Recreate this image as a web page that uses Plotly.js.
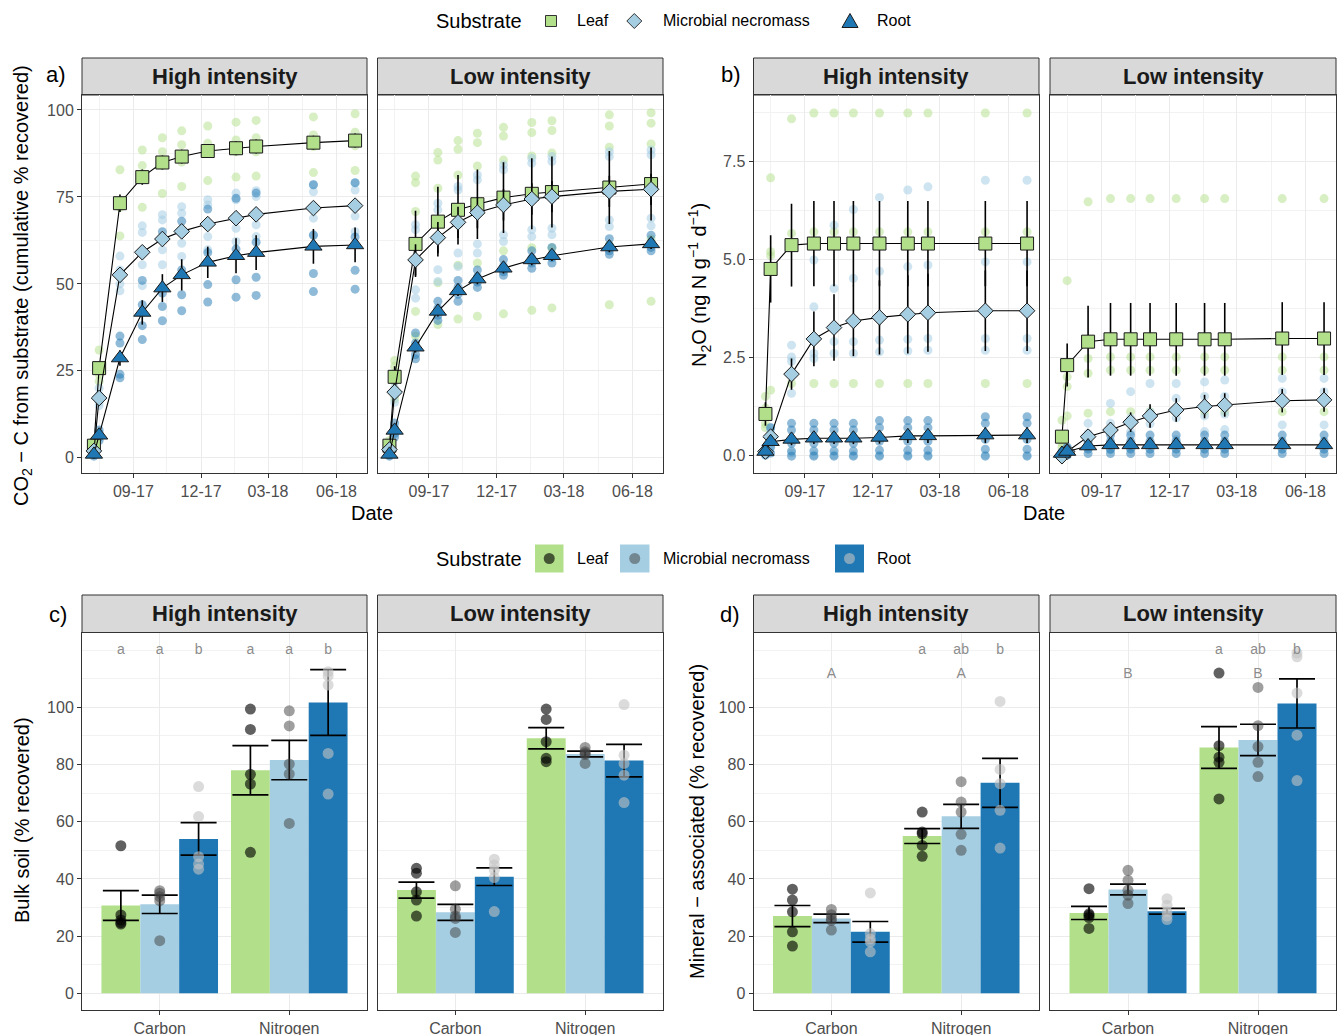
<!DOCTYPE html>
<html><head><meta charset="utf-8">
<script src="https://cdn.plot.ly/plotly-3.0.1.min.js"></script>
<style>html,body{margin:0;padding:0;background:#fff}#chart{width:1341px;height:1035px}</style>
</head><body><div id="chart"></div>
<script>
// ---------------- DATA ----------------
const substrates = ['Leaf', 'Microbial necromass', 'Root'];
const intensities = ['High intensity', 'Low intensity'];
const dates = ['2017-07-10','2017-07-17','2017-08-14','2017-09-13','2017-10-10','2017-11-05','2017-12-10','2018-01-17','2018-02-13','2018-05-01','2018-06-26'];
const dateTicks = ['2017-09-01','2017-12-01','2018-03-01','2018-06-01'];
const dateMinor = ['2017-07-17','2017-10-16','2018-01-15','2018-04-16'];

// a) CO2-C cumulative % recovered — means, SE, replicates
const co2HighLeaf = [3.5, 25.8, 73.2, 80.7, 84.9, 86.6, 88.2, 89.0, 89.5, 90.6, 91.2];
const co2HighLeafSE = [0.8, 2, 2.5, 2.2, 2, 2, 2, 2, 2, 2, 2];
const co2HighMicro = [2.0, 17.2, 52.6, 59.1, 62.9, 65.1, 67.2, 68.9, 70.0, 71.8, 72.5];
const co2HighMicroSE = [0.5, 1.5, 1.5, 1.8, 1.8, 1.8, 1.8, 1.8, 1.8, 1.8, 1.8];
const co2HighRoot = [1.0, 6.5, 28.7, 41.8, 48.8, 52.6, 56.2, 58.1, 59.0, 60.8, 61.2];
const co2HighRootSE = [0.3, 1, 2.2, 3.5, 4, 4.5, 4.5, 5, 5, 5, 5];
const co2LowLeaf = [3.5, 23.3, 61.5, 67.9, 71.3, 72.9, 74.8, 75.9, 76.4, 77.7, 78.7];
const co2LowLeafSE = [1, 3, 9.5, 10, 10, 10, 10.2, 10.2, 10.2, 10.5, 10.5];
const co2LowMicro = [2.4, 18.9, 56.9, 63.3, 67.7, 70.5, 72.7, 74.4, 75.1, 76.6, 77.2];
const co2LowMicroSE = [0.5, 2, 4.5, 4.5, 4.5, 4.5, 4.5, 4.5, 4.5, 4.5, 4.5];
const co2LowRoot = [1.0, 7.9, 31.8, 42.1, 48.0, 51.4, 54.5, 56.9, 58.1, 60.6, 61.5];
const co2LowRootSE = [0.3, 1, 1.5, 1.5, 1.5, 1.5, 1.5, 1.5, 1.5, 1.5, 1.5];

const co2HighLeafReps = [[2,3,4,5],[31,26,24,22],[82.8,74,72,63.8],[88.5,84,80,72],[92,88,84,76],[94,90,85,78],[95.4,90.4,88,79.7],[96.5,91.4,88,80.7],[97,92,88,81],[98,92.8,89.5,82],[98.9,93.6,89.7,82.6]];
const co2HighMicroReps = [[1,2,2.5,2.5],[20,18,16,15],[58,54,50,48],[66.7,64.8,55.5,49.5],[69.9,68.4,59.8,55.5],[72.2,70.3,61.7,57.9],[74.2,72.7,63.6,59.8],[76.1,74.2,66,62.2],[76.8,75.1,67,63.6],[78.5,76.5,68.9,64.1],[79,77,69.5,65]];
const co2HighRootReps = [[0.5,1,1,1.5],[8,7,6,5],[35,33,24,23],[51,44,38,34],[65,47.4,43.5,39.4],[68,54,46.9,42.3],[71.5,59,49.8,44.8],[74.6,60,51.2,46.2],[76.1,62,51.9,46.7],[78.5,64,53,47.8],[79.1,63.5,53.9,48.5]];
const co2LowLeafReps = [[5,3,2.5,2,4],[28,26.3,22,17,23],[81,79.1,70.8,42.1,35],[87.8,85.6,77.5,50.3,38.3],[91.2,88.7,81.3,55.4,39.9],[93.3,90.6,83.9,56,40.7],[95,92.5,85.6,59.5,41.4],[96.4,93.5,86.8,60.4,42.4],[96.9,94.1,87.6,60.3,43.1],[98.6,95.4,89.3,61.2,44],[99.2,96.2,90.2,62.9,45]];
const co2LowMicroReps = [[3,2.5,2,2],[22,20,18,16],[67,65.6,48.3,45.9],[73.2,71.3,54.1,50.7],[78,77,58.9,55],[81.3,79.9,61.5,58.9],[84.2,82.8,64.1,62.2],[86.1,84.7,65.6,63.6],[86.6,85.2,66,64.1],[88,86.6,68.4,66.5],[88.5,87.1,68.9,66.7]];
const co2LowRootReps = [[1.5,1,0.8,0.5],[10,8.5,7,6],[35.9,33,29.7,28.5],[45,43,41,39.5],[51,49,47,45],[54,52,50.5,49],[57,55,53.5,52.5],[59.5,57.5,56,54.5],[60.5,58.5,57.5,56],[63,61,59.5,58.5],[64,62,60.5,59.5]];

// b) N2O — means, SE, replicates
const n2oHighLeaf = [1.05, 4.76, 5.37, 5.41, 5.41, 5.41, 5.41, 5.41, 5.41, 5.41, 5.41];
const n2oHighLeafSE = [0.3, 0.86, 1.06, 1.09, 1.09, 1.09, 1.09, 1.09, 1.09, 1.09, 1.09];
const n2oHighMicro = [0.09, 0.47, 2.07, 2.97, 3.26, 3.43, 3.52, 3.6, 3.64, 3.69, 3.69];
const n2oHighMicroSE = [0.05, 0.15, 0.4, 0.7, 0.85, 0.9, 0.95, 1.0, 1.0, 1.03, 1.03];
const n2oHighRoot = [0.09, 0.34, 0.4, 0.43, 0.43, 0.43, 0.45, 0.49, 0.49, 0.51, 0.51];
const n2oHighRootSE = [0.03, 0.1, 0.15, 0.15, 0.15, 0.15, 0.16, 0.18, 0.18, 0.2, 0.2];
const n2oLowLeaf = [0.47, 2.3, 2.9, 2.96, 2.96, 2.96, 2.96, 2.96, 2.96, 2.98, 2.98];
const n2oLowLeafSE = [0.1, 0.55, 0.92, 0.93, 0.93, 0.93, 0.93, 0.93, 0.93, 0.93, 0.93];
const n2oLowMicro = [-0.03, 0.09, 0.47, 0.64, 0.84, 1.0, 1.15, 1.24, 1.28, 1.39, 1.41];
const n2oLowMicroSE = [0.02, 0.05, 0.15, 0.2, 0.25, 0.3, 0.3, 0.3, 0.3, 0.3, 0.3];
const n2oLowRoot = [0.04, 0.09, 0.23, 0.26, 0.26, 0.26, 0.26, 0.26, 0.26, 0.26, 0.26];
const n2oLowRootSE = [0.02, 0.03, 0.08, 0.1, 0.1, 0.1, 0.1, 0.1, 0.1, 0.1, 0.1];

const n2oHighLeafReps = [[1.5,1.2,0.8,0.7],[7.09,5.2,5.1,1.66],[8.6,5.67,5.4,1.83],[8.75,5.71,5.45,1.83],[8.75,5.71,5.45,1.83],[8.75,5.71,5.45,1.83],[8.75,5.71,5.45,1.83],[8.75,5.71,5.45,1.83],[8.75,5.71,5.45,1.83],[8.75,5.71,5.45,1.83],[8.75,5.71,5.45,1.83]];
const n2oHighMicroReps = [[0.2,0.1,0.05,0.05,0],[0.7,0.6,0.45,0.35,0.25],[2.81,2.51,2.4,1.58,0.05],[4.99,3.79,2.6,2.47,0],[5.88,4.26,2.9,2.6,0],[6.28,4.52,2.9,2.6,0],[6.59,4.7,2.94,2.64,0],[6.78,4.82,2.96,2.66,0],[6.86,4.86,2.98,2.68,0],[7.03,4.94,2.98,2.68,0],[7.03,4.94,2.98,2.68,0]];
const n2oHighRootReps = [[0.15,0.1,0.05,0],[0.7,0.4,0.2,0.05],[0.81,0.64,0.3,0.1,-0.03],[0.81,0.64,0.3,0.1,-0.03],[0.81,0.64,0.3,0.1,-0.03],[0.81,0.64,0.3,0.1,-0.03],[0.88,0.7,0.35,0.12,-0.03],[0.88,0.7,0.35,0.12,-0.03],[0.88,0.7,0.35,0.12,-0.03],[0.98,0.81,0.4,0.15,-0.03],[0.98,0.81,0.4,0.15,-0.03]];
const n2oLowLeafReps = [[0.89,0.47,0.3,0.2],[4.46,2.0,1.75,1.0],[6.48,2.47,2.09,1.07],[6.56,2.51,2.17,1.11],[6.56,2.51,2.17,1.11],[6.56,2.51,2.17,1.11],[6.56,2.51,2.17,1.11],[6.56,2.51,2.17,1.11],[6.56,2.51,2.17,1.11],[6.56,2.51,2.17,1.11],[6.56,2.51,2.17,1.11]];
const n2oLowMicroReps = [[0.05,0,-0.02,-0.03],[0.2,0.1,0.05,0],[0.81,0.55,0.3,0.2],[1.32,0.81,0.3,0.13],[1.62,0.95,0.6,0.2],[1.83,1.1,0.8,0.3],[1.83,1.45,0.95,0.4],[1.87,1.5,1.0,0.6],[1.92,1.5,1.05,0.65],[1.96,1.62,1.4,0.77],[1.96,1.62,1.4,0.77]];
const n2oLowRootReps = [[0.08,0.04,0.02,0],[0.2,0.1,0.05,0],[0.51,0.35,0.15,0.04],[0.51,0.35,0.15,0.04],[0.51,0.35,0.15,0.04],[0.51,0.35,0.15,0.04],[0.51,0.35,0.15,0.04],[0.51,0.35,0.15,0.04],[0.51,0.35,0.15,0.04],[0.51,0.35,0.15,0.04],[0.51,0.35,0.15,0.04]];

// c) Bulk soil and d) Mineral-associated — bars (mean), SE, replicate points
const elements = ['Carbon', 'Nitrogen'];
const bulkHighLeaf = [30.7, 78.0], bulkHighLeafSE = [5.2, 8.6];
const bulkHighMicro = [31.1, 81.6], bulkHighMicroSE = [3.2, 6.9];
const bulkHighRoot = [54.0, 101.7], bulkHighRootSE = [5.7, 11.5];
const bulkLowLeaf = [36.1, 89.2], bulkLowLeafSE = [2.8, 3.7];
const bulkLowMicro = [28.3, 83.7], bulkLowMicroSE = [2.8, 1.0];
const bulkLowRoot = [40.8, 81.4], bulkLowRootSE = [3.1, 5.7];
const bulkHighLeafReps = [[51.6,27.4,25.6,24.7,24.2],[99.4,92.3,76.6,73.2,49.3]];
const bulkHighMicroReps = [[35.9,35,33.8,32.4,18.4],[98.8,93.5,80.2,76.7,59.4]];
const bulkHighRootReps = [[72.3,61.8,47.8,45.2,43.4],[112.5,111,107.8,83.9,69.7]];
const bulkLowLeafReps = [[43.7,42,35.5,32.6,27],[99.4,95.8,88,82.2,81]];
const bulkLowMicroReps = [[37.6,29.4,27,26.2,21.3],[86,84.5,83.9,83.5,80.4]];
const bulkLowRootReps = [[46.9,44.9,43.1,40.5,28.6],[101,83.3,80.4,76.3,66.7]];

const maomHighLeaf = [27.0, 55.0], maomHighLeafSE = [3.7, 2.6];
const maomHighMicro = [26.2, 61.9], maomHighMicroSE = [1.5, 4.2];
const maomHighRoot = [21.5, 73.6], maomHighRootSE = [3.6, 8.6];
const maomLowLeaf = [28.1, 86.0], maomLowLeafSE = [2.3, 7.3];
const maomLowMicro = [36.3, 88.6], maomLowMicroSE = [1.9, 5.5];
const maomLowRoot = [28.7, 101.4], maomLowRootSE = [1.0, 8.6];
const maomHighLeafReps = [[36.4,32.6,28.5,21.5,16.5],[63.4,56.4,55.8,51.7,47.9]];
const maomHighMicroReps = [[29.3,27.5,26.2,25.5,22.1],[74,66.9,63.4,55.6,50]];
const maomHighRootReps = [[35.1,20.9,19,18,14.5],[102.1,78.3,73.3,64,50.8]];
const maomLowLeafReps = [[36.6,27.8,27.3,26.5,22.7],[112,86.6,82.6,80.8,68]];
const maomLowMicroReps = [[43,39.5,36,34.3,31.4],[107,93.6,86.3,80.8,75.8]];
const maomLowRootReps = [[33.1,30.8,28.5,27,25.8],[119,117.7,105,90.3,74.4]];

// significance letters: [element][substrate]
const bulkHighLetters = [['a','a','b'],['a','a','b']];
const bulkLowLetters = [['','',''],['','','']];
const maomHighLetters = [['','',''],['a','ab','b']];
const maomLowLetters = [['','',''],['a','ab','b']];
const maomHighGroup = ['A','A'];
const maomLowGroup = ['B','B'];
const lowerLetterY = 120, upperLetterY = 111.5;

// ---------------- STYLE ----------------
const W = 1341, H = 1035;
const FONT = 'Liberation Sans, Arial, Helvetica, sans-serif';
const fillColors = ['#b2df8a', '#a6cee3', '#1f78b4'];
const rawColors = ['rgba(178,223,138,0.5)', 'rgba(166,206,227,0.55)', 'rgba(31,120,180,0.5)'];
const dotColors = ['rgba(0,0,0,0.62)', 'rgba(64,64,64,0.5)', 'rgba(195,195,195,0.6)'];
const symbols = ['square', 'diamond', 'triangle-up'];
const symSizes = [13, 12, 15];
const px = v => v / W;
const py = v => 1 - v / H;

const traces = [];

function lineFacet(n, series) {
  const xa = n === 1 ? 'x' : 'x' + n, ya = n === 1 ? 'y' : 'y' + n;
  series.forEach((s, k) => {
    const xs = [], ys = [];
    s.reps.forEach((row, i) => row.forEach(v => { xs.push(dates[i]); ys.push(v); }));
    traces.push({type: 'scatter', mode: 'markers', x: xs, y: ys, xaxis: xa, yaxis: ya,
      marker: {size: 9, color: rawColors[k]}, showlegend: false, hoverinfo: 'skip', cliponaxis: true});
  });
  series.forEach((s, k) => {
    traces.push({type: 'scatter', mode: 'lines+markers', x: dates, y: s.mean, xaxis: xa, yaxis: ya,
      name: substrates[k], showlegend: false,
      line: {color: '#000', width: 1.1},
      error_y: {type: 'data', array: s.se, color: '#000', thickness: 1.6, width: 0},
      marker: {symbol: symbols[k], size: symSizes[k], color: fillColors[k], line: {color: '#1a1a1a', width: 1}}});
  });
}

function barFacet(n, series, letters, group) {
  const xa = 'x' + n, ya = 'y' + n;
  series.forEach((s, k) => {
    traces.push({type: 'bar', x: elements.map((e, i) => i + 1 + (k - 1) * 0.3), y: s.mean, width: 0.3,
      xaxis: xa, yaxis: ya, name: substrates[k], showlegend: false,
      marker: {color: fillColors[k], line: {width: 0}},
      error_y: {type: 'data', array: s.se, color: '#000', thickness: 1.7, width: 18}});
  });
  series.forEach((s, k) => {
    const xs = [], ys = [];
    s.reps.forEach((row, i) => row.forEach(v => { xs.push(i + 1 + (k - 1) * 0.3); ys.push(v); }));
    traces.push({type: 'scatter', mode: 'markers', x: xs, y: ys, xaxis: xa, yaxis: ya, showlegend: false,
      marker: {size: 11, color: dotColors[k]}, hoverinfo: 'skip'});
  });
  const lx = [], ly = [], lt = [];
  letters.forEach((row, i) => row.forEach((t, k) => { if (t) { lx.push(i + 1 + (k - 1) * 0.3); ly.push(lowerLetterY); lt.push(t); } }));
  if (group) group.forEach((t, i) => { lx.push(i + 1); ly.push(upperLetterY); lt.push(t); });
  if (lt.length) traces.push({type: 'scatter', mode: 'text', x: lx, y: ly, text: lt, xaxis: xa, yaxis: ya,
    showlegend: false, textfont: {size: 14, color: '#8c8c8c', family: FONT}, hoverinfo: 'skip'});
}

lineFacet(1, [{mean: co2HighLeaf, se: co2HighLeafSE, reps: co2HighLeafReps}, {mean: co2HighMicro, se: co2HighMicroSE, reps: co2HighMicroReps}, {mean: co2HighRoot, se: co2HighRootSE, reps: co2HighRootReps}]);
lineFacet(2, [{mean: co2LowLeaf, se: co2LowLeafSE, reps: co2LowLeafReps}, {mean: co2LowMicro, se: co2LowMicroSE, reps: co2LowMicroReps}, {mean: co2LowRoot, se: co2LowRootSE, reps: co2LowRootReps}]);
lineFacet(3, [{mean: n2oHighLeaf, se: n2oHighLeafSE, reps: n2oHighLeafReps}, {mean: n2oHighMicro, se: n2oHighMicroSE, reps: n2oHighMicroReps}, {mean: n2oHighRoot, se: n2oHighRootSE, reps: n2oHighRootReps}]);
lineFacet(4, [{mean: n2oLowLeaf, se: n2oLowLeafSE, reps: n2oLowLeafReps}, {mean: n2oLowMicro, se: n2oLowMicroSE, reps: n2oLowMicroReps}, {mean: n2oLowRoot, se: n2oLowRootSE, reps: n2oLowRootReps}]);
barFacet(5, [{mean: bulkHighLeaf, se: bulkHighLeafSE, reps: bulkHighLeafReps}, {mean: bulkHighMicro, se: bulkHighMicroSE, reps: bulkHighMicroReps}, {mean: bulkHighRoot, se: bulkHighRootSE, reps: bulkHighRootReps}], bulkHighLetters, null);
barFacet(6, [{mean: bulkLowLeaf, se: bulkLowLeafSE, reps: bulkLowLeafReps}, {mean: bulkLowMicro, se: bulkLowMicroSE, reps: bulkLowMicroReps}, {mean: bulkLowRoot, se: bulkLowRootSE, reps: bulkLowRootReps}], bulkLowLetters, null);
barFacet(7, [{mean: maomHighLeaf, se: maomHighLeafSE, reps: maomHighLeafReps}, {mean: maomHighMicro, se: maomHighMicroSE, reps: maomHighMicroReps}, {mean: maomHighRoot, se: maomHighRootSE, reps: maomHighRootReps}], maomHighLetters, maomHighGroup);
barFacet(8, [{mean: maomLowLeaf, se: maomLowLeafSE, reps: maomLowLeafReps}, {mean: maomLowMicro, se: maomLowMicroSE, reps: maomLowMicroReps}, {mean: maomLowRoot, se: maomLowRootSE, reps: maomLowRootReps}], maomLowLetters, maomLowGroup);

// ---------------- LAYOUT ----------------
const baseAxis = {showline: true, mirror: true, linecolor: '#333333', linewidth: 1, ticks: 'outside', ticklen: 4,
  tickcolor: '#333333', tickwidth: 1, zeroline: false, showgrid: true, gridcolor: '#ebebeb', gridwidth: 1,
  tickfont: {size: 16, color: '#4d4d4d', family: FONT}, fixedrange: true};

const panelsX = [[82, 367], [377.5, 663], [753.5, 1039], [1050, 1336], [82, 367], [377.5, 663], [753.5, 1039], [1050, 1336]];
const topY = [95, 473], botY = [632.5, 1010];
const layout = {width: W, height: H, margin: {l: 0, r: 0, t: 0, b: 0}, paper_bgcolor: '#fff', plot_bgcolor: '#fff',
  font: {family: FONT, color: '#000'}, showlegend: false, barmode: 'overlay', hovermode: false,
  shapes: [], annotations: []};

for (let n = 1; n <= 8; n++) {
  const xk = n === 1 ? 'xaxis' : 'xaxis' + n, yk = n === 1 ? 'yaxis' : 'yaxis' + n;
  const xa = n === 1 ? 'x' : 'x' + n, ya = n === 1 ? 'y' : 'y' + n;
  const yr = n <= 4 ? topY : botY;
  const left = (n % 2) === 1;
  const xAx = Object.assign({}, baseAxis, {domain: [px(panelsX[n - 1][0]), px(panelsX[n - 1][1])], anchor: ya});
  const yAx = Object.assign({}, baseAxis, {domain: [py(yr[1]), py(yr[0])], anchor: xa});
  if (n <= 4) {
    Object.assign(xAx, {type: 'date', range: ['2017-06-24', '2018-07-12'], tickvals: dateTicks, tickformat: '%m-%y',
      minor: {tickvals: dateMinor, showgrid: true, gridcolor: '#f2f2f2', gridwidth: 1, ticks: ''}});
  } else {
    Object.assign(xAx, {range: [0.4, 2.6], tickvals: [1, 2], ticktext: elements});
  }
  if (n <= 2) {
    Object.assign(yAx, {range: [-4.35, 104.3], tickvals: [0, 25, 50, 75, 100],
      minor: {tickvals: [12.5, 37.5, 62.5, 87.5], showgrid: true, gridcolor: '#f2f2f2', gridwidth: 1, ticks: ''}});
  } else if (n <= 4) {
    Object.assign(yAx, {range: [-0.46, 9.21], tickvals: [0, 2.5, 5, 7.5], ticktext: ['0.0', '2.5', '5.0', '7.5'],
      minor: {tickvals: [1.25, 3.75, 6.25, 8.75], showgrid: true, gridcolor: '#f2f2f2', gridwidth: 1, ticks: ''}});
  } else {
    Object.assign(yAx, {range: [-5.85, 126.2], tickvals: [0, 20, 40, 60, 80, 100],
      minor: {tickvals: [10, 30, 50, 70, 90, 110, 120], showgrid: true, gridcolor: '#f2f2f2', gridwidth: 1, ticks: ''}});
  }
  if (!left) { yAx.showticklabels = false; yAx.ticks = ''; }
  layout[xk] = xAx; layout[yk] = yAx;

  // strip
  const sy = n <= 4 ? [58, 95] : [595, 632.5];
  layout.shapes.push({type: 'rect', xref: 'paper', yref: 'paper', x0: px(panelsX[n - 1][0]), x1: px(panelsX[n - 1][1]),
    y0: py(sy[1]), y1: py(sy[0]), fillcolor: '#d9d9d9', line: {color: '#333333', width: 1}, layer: 'below'});
  layout.annotations.push({xref: 'paper', yref: 'paper', x: px((panelsX[n - 1][0] + panelsX[n - 1][1]) / 2), y: py((sy[0] + sy[1]) / 2),
    text: '<b>' + intensities[left ? 0 : 1] + '</b>', showarrow: false, xanchor: 'center', yanchor: 'middle',
    font: {size: 22, color: '#1a1a1a', family: FONT}});
}

function ann(x, y, text, opts) {
  layout.annotations.push(Object.assign({xref: 'paper', yref: 'paper', x: px(x), y: py(y), text: text, showarrow: false,
    xanchor: 'center', yanchor: 'middle', font: {size: 20, color: '#000', family: FONT}}, opts || {}));
}
// panel tags
ann(56, 75, 'a)', {font: {size: 22, family: FONT}});
ann(731, 75, 'b)', {font: {size: 22, family: FONT}});
ann(58, 614, 'c)', {font: {size: 22, family: FONT}});
ann(730, 614, 'd)', {font: {size: 22, family: FONT}});
// axis titles
ann(22, 286, 'CO<sub>2</sub> − C from substrate (cumulative % recovered)', {textangle: -90});
ann(699, 285, 'N<sub>2</sub>O (ng N g<sup>−1</sup> d<sup>−1</sup>)', {textangle: -90});
ann(22, 820, 'Bulk soil (% recovered)', {textangle: -90});
ann(697, 822, 'Mineral − associated (% recovered)', {textangle: -90});
ann(372, 513, 'Date');
ann(1044, 513, 'Date');

// legends
function legendText(x, y, t, size) { ann(x, y, t, {xanchor: 'left', font: {size: size, color: '#000', family: FONT}}); }
function sh(s) { layout.shapes.push(Object.assign({xref: 'paper', yref: 'paper'}, s)); }
const L1 = 21;
legendText(434, L1, 'Substrate', 20);
sh({type: 'rect', x0: px(545.5), x1: px(556.5), y0: py(26.5), y1: py(15.5), fillcolor: fillColors[0], line: {color: '#333', width: 1}});
legendText(575, L1, 'Leaf', 16);
sh({type: 'path', path: `M ${px(634.3)},${py(13.5)} L ${px(641.8)},${py(21)} L ${px(634.3)},${py(28.5)} L ${px(626.8)},${py(21)} Z`, fillcolor: fillColors[1], line: {color: '#333', width: 1}});
legendText(661, L1, 'Microbial necromass', 16);
sh({type: 'path', path: `M ${px(842)},${py(27.5)} L ${px(858)},${py(27.5)} L ${px(850)},${py(13.5)} Z`, fillcolor: fillColors[2], line: {color: '#1a1a1a', width: 1}});
legendText(875, L1, 'Root', 16);

const L2 = 558.5;
legendText(434, L2, 'Substrate', 20);
[[535, 563.5], [620, 649.5], [835, 864]].forEach((b, k) => {
  sh({type: 'rect', x0: px(b[0]), x1: px(b[1]), y0: py(L2 + 14), y1: py(L2 - 14), fillcolor: fillColors[k], line: {width: 0}});
  const c = (b[0] + b[1]) / 2;
  sh({type: 'circle', x0: px(c - 5.5), x1: px(c + 5.5), y0: py(L2 + 5.5), y1: py(L2 - 5.5), fillcolor: dotColors[k], line: {width: 0}});
});
legendText(575, L2, 'Leaf', 16);
legendText(661, L2, 'Microbial necromass', 16);
legendText(875, L2, 'Root', 16);

Plotly.newPlot('chart', traces, layout, {displayModeBar: false, staticPlot: true});
</script></body></html>
